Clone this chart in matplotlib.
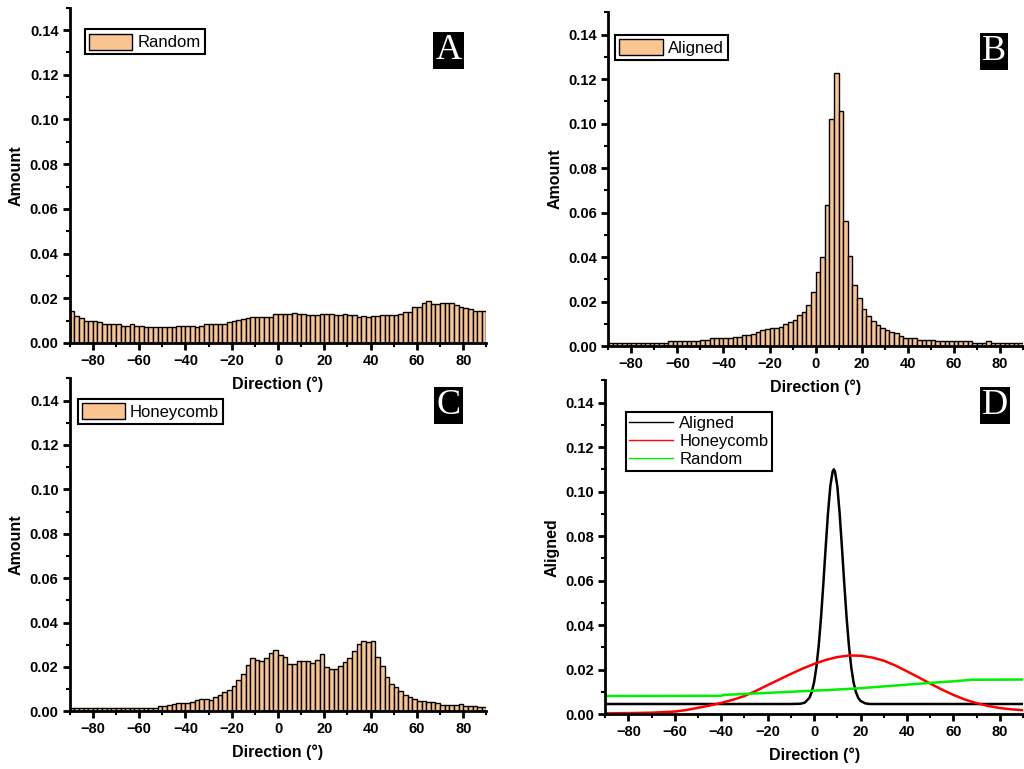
import numpy as np
import matplotlib
matplotlib.use("Agg")
import matplotlib.pyplot as plt
from matplotlib.lines import Line2D
from matplotlib.ticker import MultipleLocator, FormatStrFormatter

plt.rcParams['font.family'] = ['Liberation Sans', 'DejaVu Sans']

# bin left edges, 2 degree bins from -90 to 90
bin_edges = np.arange(-90, 90, 2)

random_amount = [
    0.0142, 0.0120, 0.0112, 0.0100, 0.0100, 0.0100, 0.0094, 0.0083, 0.0083, 0.0083,
    0.0083, 0.0077, 0.0077, 0.0083, 0.0077, 0.0077, 0.0070, 0.0070, 0.0070, 0.0070,
    0.0070, 0.0070, 0.0070, 0.0077, 0.0077, 0.0077, 0.0077, 0.0070, 0.0077, 0.0083,
    0.0083, 0.0083, 0.0083, 0.0083, 0.0094, 0.0100, 0.0105, 0.0108, 0.0110, 0.0114,
    0.0117, 0.0117, 0.0117, 0.0117, 0.0130, 0.0130, 0.0130, 0.0130, 0.0136, 0.0130,
    0.0130, 0.0127, 0.0127, 0.0123, 0.0130, 0.0130, 0.0130, 0.0123, 0.0123, 0.0130,
    0.0123, 0.0123, 0.0117, 0.0120, 0.0117, 0.0120, 0.0120, 0.0123, 0.0123, 0.0123,
    0.0127, 0.0130, 0.0139, 0.0139, 0.0160, 0.0160, 0.0177, 0.0190, 0.0173, 0.0173,
    0.0180, 0.0177, 0.0177, 0.0170, 0.0162, 0.0155, 0.0150, 0.0142, 0.0142, 0.0142,
]

aligned_amount = [
    0.0014, 0.0014, 0.0014, 0.0014, 0.0014, 0.0014, 0.0014, 0.0014, 0.0014, 0.0014,
    0.0014, 0.0014, 0.0014, 0.0022, 0.0022, 0.0022, 0.0022, 0.0022, 0.0022, 0.0022,
    0.0028, 0.0028, 0.0036, 0.0036, 0.0036, 0.0036, 0.0036, 0.0042, 0.0042, 0.0048,
    0.0048, 0.0055, 0.0063, 0.0070, 0.0076, 0.0082, 0.0082, 0.0087, 0.0099, 0.0110,
    0.0118, 0.0140, 0.0154, 0.0184, 0.0244, 0.0334, 0.0400, 0.0634, 0.1020, 0.1226,
    0.1058, 0.0562, 0.0405, 0.0274, 0.0214, 0.0168, 0.0136, 0.0112, 0.0094, 0.0082,
    0.0072, 0.0064, 0.0057, 0.0046, 0.0036, 0.0036, 0.0036, 0.0028, 0.0028, 0.0028,
    0.0028, 0.0022, 0.0022, 0.0022, 0.0022, 0.0022, 0.0022, 0.0022, 0.0022, 0.0014,
    0.0014, 0.0014, 0.0022, 0.0014, 0.0014, 0.0014, 0.0014, 0.0014, 0.0014, 0.0014,
]

honeycomb_amount = [
    0.0015, 0.0015, 0.0015, 0.0015, 0.0015, 0.0015, 0.0015, 0.0015, 0.0015, 0.0015,
    0.0015, 0.0015, 0.0015, 0.0015, 0.0015, 0.0015, 0.0015, 0.0015, 0.0015, 0.0023,
    0.0023, 0.0030, 0.0035, 0.0036, 0.0036, 0.0036, 0.0042, 0.0051, 0.0057, 0.0057,
    0.0053, 0.0065, 0.0072, 0.0087, 0.0095, 0.0114, 0.0143, 0.0166, 0.0210, 0.0238,
    0.0232, 0.0226, 0.0238, 0.0264, 0.0276, 0.0253, 0.0244, 0.0214, 0.0214, 0.0226,
    0.0226, 0.0226, 0.0217, 0.0233, 0.0259, 0.0199, 0.0191, 0.0191, 0.0202, 0.0221,
    0.0238, 0.0270, 0.0304, 0.0316, 0.0313, 0.0316, 0.0245, 0.0202, 0.0154, 0.0123,
    0.0108, 0.0093, 0.0072, 0.0066, 0.0057, 0.0048, 0.0045, 0.0042, 0.0041, 0.0038,
    0.0030, 0.0030, 0.0030, 0.0027, 0.0033, 0.0024, 0.0024, 0.0024, 0.0018, 0.0018,
]

# fitted curves
aligned_fit_x = [-90, -10, -6, -4, -2, -1, 0, 1, 2, 3, 4, 5, 6, 7, 8, 8.5, 9, 10, 11, 12,
                 13, 14, 15, 16, 17, 18, 19, 20, 22, 24, 28, 90]
aligned_fit_y = [0.0045, 0.0045, 0.0046, 0.0051, 0.0073, 0.0099, 0.0143, 0.0211, 0.0308, 0.0435,
                 0.0587, 0.0750, 0.0904, 0.1025, 0.1090, 0.1100, 0.1090, 0.1025, 0.0904, 0.0750,
                 0.0587, 0.0435, 0.0308, 0.0211, 0.0143, 0.0099, 0.0073, 0.0059, 0.0048, 0.0045,
                 0.0045, 0.0045]

honeycomb_fit_x = [-90, -80, -70, -60, -55, -50, -45, -40, -35, -30, -25, -20, -15, -10, -5, 0,
                   5, 10, 15, 20, 25, 30, 35, 40, 45, 50, 55, 60, 65, 70, 75, 80, 85, 90]
honeycomb_fit_y = [0.0003, 0.0004, 0.0006, 0.0011, 0.0018, 0.0028, 0.0038, 0.0050, 0.0064, 0.0081,
                   0.0104, 0.0130, 0.0155, 0.0180, 0.0204, 0.0225, 0.0243, 0.0256, 0.0263, 0.0262,
                   0.0254, 0.0240, 0.0218, 0.0192, 0.0165, 0.0137, 0.0110, 0.0086, 0.0065, 0.0049,
                   0.0036, 0.0027, 0.0021, 0.0017]

random_fit_x = [-90, -40, -39, -30, -20, -10, 0, 10, 20, 30, 40, 50, 60, 68, 90]
random_fit_y = [0.0081, 0.0082, 0.0086, 0.0090, 0.0095, 0.0100, 0.0105, 0.0110, 0.0116, 0.0124,
                0.0132, 0.0140, 0.0147, 0.0154, 0.0155]

BAR_COLOR = '#f9c692'


def style_axes(ax, ylabel):
    ax.patch.set_visible(False)
    ax.set_xlim(-90, 90)
    ax.set_ylim(0, 0.15)
    ax.spines['top'].set_visible(False)
    ax.spines['right'].set_visible(False)
    ax.spines['left'].set_linewidth(2)
    ax.spines['bottom'].set_linewidth(2)
    ax.set_xticks(np.arange(-80, 81, 20))
    ax.xaxis.set_minor_locator(MultipleLocator(10))
    ax.set_yticks(np.arange(0, 0.141, 0.02))
    ax.yaxis.set_minor_locator(MultipleLocator(0.01))
    ax.yaxis.set_major_formatter(FormatStrFormatter('%.2f'))
    ax.tick_params(which='major', length=5, width=2, labelsize=10.5, pad=3)
    ax.tick_params(which='minor', length=3, width=1.5)
    for lbl in ax.get_xticklabels() + ax.get_yticklabels():
        lbl.set_fontweight('bold')
    ax.set_xlabel('Direction (°)', fontsize=11.5, fontweight='bold', labelpad=6)
    ax.set_ylabel(ylabel, fontsize=11.5, fontweight='bold', labelpad=4)


def panel_letter(ax, letter, x, y):
    ax.text(x, y, letter, transform=ax.transAxes, ha='center', va='center',
            color='white', fontsize=26, family=['Liberation Serif', 'DejaVu Serif'],
            bbox=dict(facecolor='black', edgecolor='none', pad=1.5))


fig = plt.figure(figsize=(10.24, 7.69), dpi=100)
axA = fig.add_axes([0.068, 0.554, 0.407, 0.436])
axB = fig.add_axes([0.594, 0.550, 0.405, 0.434])
axC = fig.add_axes([0.068, 0.075, 0.407, 0.433])
axD = fig.add_axes([0.591, 0.0715, 0.408, 0.434])

hist_panels = [
    (axA, random_amount, 'Random', 'A', (0.036, 0.935), (0.909, 0.872)),
    (axB, aligned_amount, 'Aligned', 'B', (0.017, 0.932), (0.930, 0.883)),
    (axC, honeycomb_amount, 'Honeycomb', 'C', (0.019, 0.938), (0.909, 0.919)),
]
for ax, vals, name, letter, leg_pos, let_pos in hist_panels:
    ax.bar(bin_edges, vals, width=2, align='edge', color=BAR_COLOR,
           edgecolor='black', linewidth=1.0, label=name)
    style_axes(ax, 'Amount')
    leg = ax.legend(loc='upper left', bbox_to_anchor=leg_pos, fontsize=12,
                    fancybox=False, edgecolor='black', framealpha=1,
                    handlelength=2.6, handleheight=1.1, borderpad=0.25,
                    handletextpad=0.3, borderaxespad=0)
    leg.get_frame().set_linewidth(1.5)
    panel_letter(ax, letter, *let_pos)

axD.plot(aligned_fit_x, aligned_fit_y, color='black', lw=1.8)
axD.plot(honeycomb_fit_x, honeycomb_fit_y, color='#ff0000', lw=1.8)
axD.plot(random_fit_x, random_fit_y, color='#00f000', lw=1.8)
style_axes(axD, 'Aligned')
handles = [Line2D([], [], color='black', lw=1),
           Line2D([], [], color='#ff0000', lw=1),
           Line2D([], [], color='#00f000', lw=1)]
leg = axD.legend(handles, ['Aligned', 'Honeycomb', 'Random'], loc='upper left',
                 bbox_to_anchor=(0.050, 0.904), fontsize=12, fancybox=False,
                 edgecolor='black', framealpha=1, handlelength=2.6,
                 borderpad=0.2, labelspacing=0.2, handletextpad=0.4, borderaxespad=0)
leg.get_frame().set_linewidth(1.5)
panel_letter(axD, 'D', 0.933, 0.925)

fig.savefig('out.png', dpi=100)
